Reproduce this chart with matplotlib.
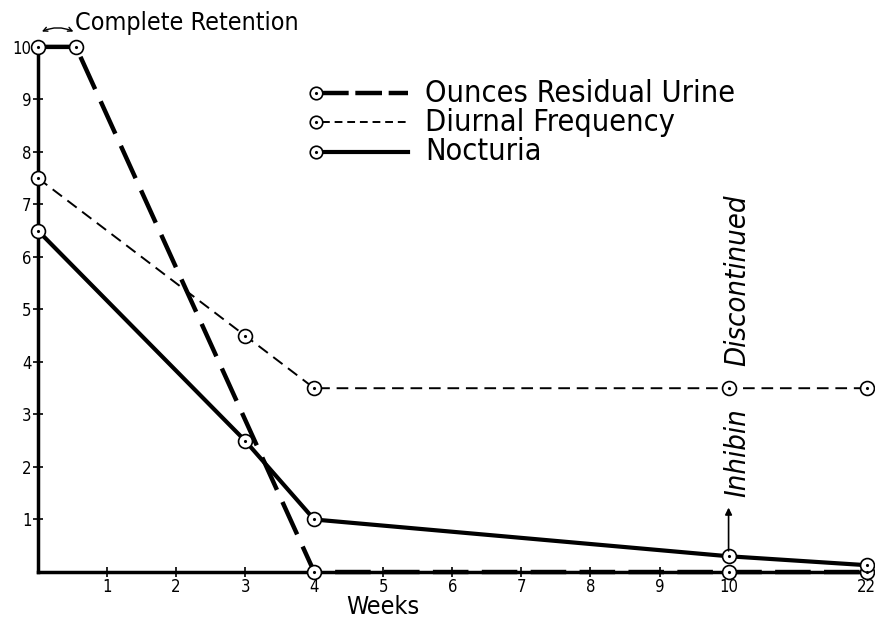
import numpy as np
import matplotlib.pyplot as plt

# x positions on the chart (22 weeks drawn where 12 would be)
tick_pos = [1, 2, 3, 4, 5, 6, 7, 8, 9, 10, 12]
tick_lab = ['1', '2', '3', '4', '5', '6', '7', '8', '9', '10', '22']

urine_x = [0, 0.55, 4, 10, 12]
urine_y = [10, 10, 0, 0, 0]
diurnal_x = [0, 3, 4, 10, 12]
diurnal_y = [7.5, 4.5, 3.5, 3.5, 3.5]
noct_x = [0, 3, 4, 10, 12]
noct_y = [6.5, 2.5, 1.0, 0.3, 0.13]

plt.rcParams['font.family'] = ['DejaVu Sans']
plt.rcParams['font.stretch'] = 'condensed'

fig = plt.figure(figsize=(8.75, 6.2), dpi=100)
ax = fig.add_axes([0.0434, 0.0774, 0.955, 0.847])
ax.set_xlim(0, 12.1)
ax.set_ylim(0, 10)

mk = dict(marker='o', markersize=10, markerfacecolor='white', markeredgecolor='black',
          markeredgewidth=1.2, clip_on=False, zorder=3)

ax.plot(urine_x, urine_y, color='black', lw=3.2, dashes=(8, 3), **mk)
ax.plot(diurnal_x, diurnal_y, color='black', lw=1.4, dashes=(6, 3.5), **mk)
ax.plot(noct_x, noct_y, color='black', lw=3.0, **mk)
for xs, ys in [(urine_x, urine_y), (diurnal_x, diurnal_y), (noct_x, noct_y)]:
    ax.plot(xs, ys, ls='none', marker='.', markersize=2.5, color='black', clip_on=False, zorder=4)

for s in ['top', 'right']:
    ax.spines[s].set_visible(False)
ax.spines['left'].set_linewidth(2.5)
ax.spines['bottom'].set_linewidth(2.5)

ax.set_xticks(tick_pos)
ax.set_xticklabels(tick_lab, fontsize=12)
ax.set_yticks(range(1, 11))
ax.set_yticklabels([str(i) for i in range(1, 11)], fontsize=12)
ax.tick_params(axis='both', direction='inout', length=7, width=1.2)
ax.tick_params(axis='y', pad=1)
ax.tick_params(axis='x', pad=1)
ax.set_xlabel('Weeks', fontsize=18)
ax.xaxis.set_label_coords(0.413, -0.043)
ax.xaxis.label.set_va('top')

# legend drawn by hand
leg = [('Ounces Residual Urine', dict(lw=3.2, dashes=(6, 1.5))),
       ('Diurnal Frequency', dict(lw=1.4, dashes=(4, 2.5))),
       ('Nocturia', dict(lw=3.0))]
for i, (lab, st) in enumerate(leg):
    yy = 0.912 - i * 0.056
    ax.plot([0.34, 0.443], [yy, yy], color='black', transform=ax.transAxes, clip_on=False, **st)
    ax.plot([0.333], [yy], transform=ax.transAxes, marker='o', markersize=9,
            markerfacecolor='white', markeredgecolor='black', markeredgewidth=1.2, zorder=3)
    ax.plot([0.333], [yy], transform=ax.transAxes, marker='.', markersize=2.5, color='black', zorder=4)
    ax.text(0.463, yy, lab, transform=ax.transAxes, fontsize=22, va='center', ha='left')

# annotations
fig.text(0.086, 0.963, 'Complete Retention', fontsize=18, va='center', ha='left')
ax.annotate('', xy=(0.02, 10.27), xytext=(0.55, 10.27), annotation_clip=False,
            arrowprops=dict(arrowstyle='<->, head_length=0.3, head_width=0.15', lw=1,
                            connectionstyle='arc3,rad=0.25'))
# the marker at 3.5 sits in the gap between the two words
ax.text(10.12, 1.43, 'Inhibin', rotation=90, fontsize=21, style='italic',
        ha='center', va='bottom')
ax.text(10.12, 7.18, 'Discontinued', rotation=90, fontsize=21, style='italic',
        ha='center', va='top')
ax.annotate('', xy=(10, 1.28), xytext=(10, 0.35),
            arrowprops=dict(arrowstyle='-|>', lw=1.2, color='black'))

fig.savefig('out.png', dpi=100)
